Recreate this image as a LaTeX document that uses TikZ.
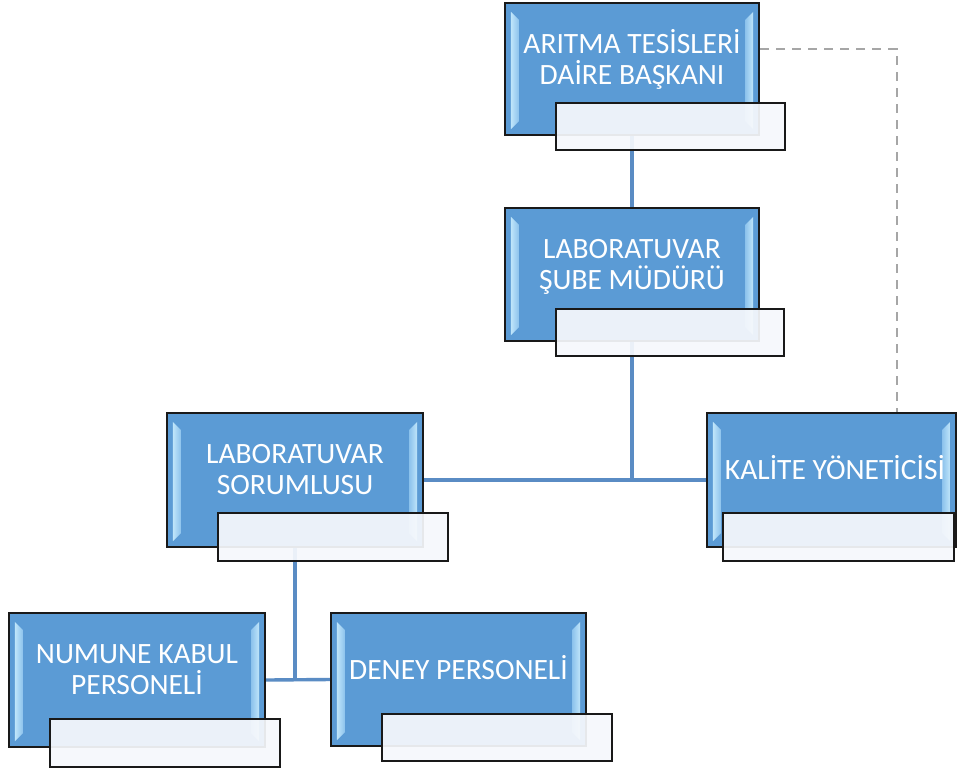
\documentclass[tikz,border=0pt]{standalone}
\usepackage{fontspec}
\setmainfont{Carlito}
\usetikzlibrary{calc,backgrounds}
\definecolor{boxblue}{HTML}{5B9BD5}
\definecolor{linkblue}{HTML}{5A8CC4}
\definecolor{dashgray}{HTML}{A6A6A6}
\definecolor{bevout}{HTML}{BFE5FA}
\definecolor{bevmid}{HTML}{F4FBFF}
\definecolor{bevin}{HTML}{8CC2EC}
\definecolor{capfill}{HTML}{F6F8FC}
\newcommand\bevelstrips[1]{%
  \shade[left color=bevout, middle color=bevmid, right color=bevin]
    ($(#1.north west)+(7,10)$) -- ($(#1.north west)+(15,18)$) --
    ($(#1.south west)+(15,-15)$) -- ($(#1.south west)+(7,-7)$) -- cycle;
  \shade[left color=bevin, middle color=bevmid, right color=bevout]
    ($(#1.north east)+(-7,10)$) -- ($(#1.north east)+(-15,18)$) --
    ($(#1.south east)+(-15,-15)$) -- ($(#1.south east)+(-7,-7)$) -- cycle;}
\begin{document}
\begin{tikzpicture}[x=1pt,y=-1pt,
  bluebox/.style={draw=black!90, line width=2.2pt, fill=boxblue, rectangle, inner sep=0pt},
  capbox/.style={draw=black!90, line width=2.2pt, fill=capfill, fill opacity=0.93, rectangle, inner sep=0pt},
  lbl/.style={text=white, font=\fontsize{29.5}{31}\selectfont, anchor=base, inner sep=0pt},
  link/.style={draw=linkblue, line width=3.4pt},
  dlink/.style={draw=dashgray, line width=2.6pt, dash pattern=on 9pt off 7pt}]
\useasboundingbox (0,0) rectangle (957,772);
% blue boxes
\node[bluebox, minimum width=254pt, minimum height=132pt] (b1) at (632,69) {};
\node[bluebox, minimum width=254pt, minimum height=133pt] (b2) at (632,274.5) {};
\node[bluebox, minimum width=256pt, minimum height=134pt] (b3) at (295,480) {};
\node[bluebox, minimum width=249pt, minimum height=134pt] (b4) at (831.5,480) {};
\node[bluebox, minimum width=256pt, minimum height=134pt] (b5) at (137,680) {};
\node[bluebox, minimum width=255pt, minimum height=133pt] (b6) at (458.5,679.5) {};
\bevelstrips{b1}
\bevelstrips{b2}
\bevelstrips{b3}
\bevelstrips{b4}
\bevelstrips{b5}
\bevelstrips{b6}
% texts
\node[lbl] (t1a) at (632,53) {ARITMA TESİSLERİ};
\node[lbl] (t1b) at (632,84) {DAİRE BAŞKANI};
\node[lbl] (t2a) at (632,258) {LABORATUVAR};
\node[lbl] (t2b) at (632,289) {ŞUBE MÜDÜRÜ};
\node[lbl] (t3a) at (295,463) {LABORATUVAR};
\node[lbl] (t3b) at (295,494) {SORUMLUSU};
\node[lbl] (t4) at (835,479) {KALİTE YÖNETİCİSİ};
\node[lbl] (t5a) at (137,663) {NUMUNE KABUL};
\node[lbl] (t5b) at (137,694) {PERSONELİ};
\node[lbl] (t6) at (458.5,679) {DENEY PERSONELİ};
% caption boxes
\node[capbox, minimum width=229pt, minimum height=47pt] (c1) at (670.5,126.5) {};
\node[capbox, minimum width=228pt, minimum height=47pt] (c2) at (670,332.5) {};
\node[capbox, minimum width=230pt, minimum height=48pt] (c3) at (333,537) {};
\node[capbox, minimum width=231pt, minimum height=48pt] (c4) at (838.5,537) {};
\node[capbox, minimum width=230pt, minimum height=48pt] (c5) at (165,743) {};
\node[capbox, minimum width=230pt, minimum height=47pt] (c6) at (497,737.5) {};
% connectors
\begin{pgfonlayer}{background}
\fill[white] (0,0) rectangle (957,772);
\draw[link] (b1.south) -- (b2.north);
\draw[link] (b2.south) -- (b2.south |- b3.east);
\draw[link] (b3.east) -- (b4.west);
\draw[link] (b3.south) -- (b3.south |- b5.east);
\draw[link] (b5.east) -- (b6.west);
\coordinate (dk) at (897,49);
\draw[dlink] ($(b1.east)+(0,-20)$) -- (dk) -- (dk |- b4.north);
\end{pgfonlayer}
\end{tikzpicture}
\end{document}
